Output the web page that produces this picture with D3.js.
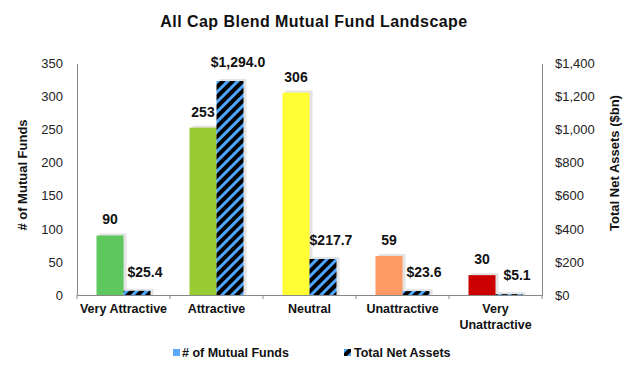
<!DOCTYPE html>
<html><head><meta charset="utf-8">
<script src="https://cdn.jsdelivr.net/npm/d3@7/dist/d3.min.js"></script>
<style>body{margin:0;background:#fff}svg{display:block;font-family:"Liberation Sans",Arial,sans-serif}</style>
</head><body><svg id="c" width="630" height="368"></svg>
<script>
const categories = ["Very Attractive", "Attractive", "Neutral", "Unattractive", "Very Unattractive"];
const fundCounts = [90, 253, 306, 59, 30];
const netAssets = [25.4, 1294.0, 217.7, 23.6, 5.1];
const countColors = ["#5ec85e", "#99cc33", "#ffff33", "#ff9966", "#cc0000"];
const leftTicks = [0, 50, 100, 150, 200, 250, 300, 350];
const rightTicks = [0, 200, 400, 600, 800, 1000, 1200, 1400];
const seriesNames = ["# of Mutual Funds", "Total Net Assets"];

const svg = d3.select("#c");
const L = 77, R = 542, T = 63.5, B = 295;

const defs = svg.append("defs");
const pat = defs.append("pattern").attr("id","hatch").attr("patternUnits","userSpaceOnUse")
  .attr("width",7).attr("height",7).attr("patternTransform","rotate(45)");
pat.append("rect").attr("width",7).attr("height",7).attr("fill","#000");
pat.append("rect").attr("x",0).attr("width",3).attr("height",7).attr("fill","#4da6ff");

const x = d3.scaleBand().domain(categories).range([L, R]).paddingInner(0).paddingOuter(0);
const yL = d3.scaleLinear().domain([0, 350]).range([B, T]);
const yR = d3.scaleLinear().domain([0, 1400]).range([B, T]);
const bw = 27;

// title
svg.append("text").attr("x", 314).attr("y", 27).attr("text-anchor","middle")
  .attr("font-size", 16).attr("font-weight","bold").attr("fill","#111").attr("letter-spacing", 0.45)
  .text("All Cap Blend Mutual Fund Landscape");

// shadows
const g = svg.append("g");
categories.forEach((c,i) => {
  const cx = x(c) + x.bandwidth()/2;
  const h1 = yL(fundCounts[i]);
  g.append("rect").attr("x", cx - bw + 3).attr("y", h1 - 2).attr("width", bw).attr("height", B - h1 + 2)
    .attr("fill","#d0d0d0").attr("opacity",0.6);
  const h2 = yR(netAssets[i]);
  g.append("rect").attr("x", cx + 3).attr("y", h2 - 2).attr("width", bw).attr("height", B - h2 + 2)
    .attr("fill","#d0d0d0").attr("opacity",0.6);
});
// bars
categories.forEach((c,i) => {
  const cx = x(c) + x.bandwidth()/2;
  g.append("rect").attr("x", cx - bw).attr("y", yL(fundCounts[i])).attr("width", bw)
    .attr("height", B - yL(fundCounts[i])).attr("fill", countColors[i]);
  g.append("rect").attr("x", cx).attr("y", yR(netAssets[i])).attr("width", bw)
    .attr("height", Math.max(0, B - yR(netAssets[i]))).attr("fill", "url(#hatch)");
});
// value labels
const lab = svg.append("g").attr("font-size", 14).attr("font-weight","bold").attr("fill","#111").attr("text-anchor","middle");
categories.forEach((c,i) => {
  const cx = x(c) + x.bandwidth()/2;
  lab.append("text").attr("x", cx - bw/2).attr("y", yL(fundCounts[i]) - 11).text(d3.format("d")(fundCounts[i]));
  lab.append("text").attr("x", cx + bw/2 + 8).attr("y", yR(netAssets[i]) - 14)
    .text("$" + d3.format(",.1f")(netAssets[i]));
});

// axes
const axisColor = "#888";
const xa = svg.append("g").attr("transform", `translate(0,${B})`)
  .call(d3.axisBottom(x).tickSize(0).tickFormat(""));
xa.select(".domain").attr("stroke", axisColor);
const bounds = categories.map(c => x(c)).concat([R]);
svg.append("g").selectAll("line").data(bounds).join("line")
  .attr("x1", d=>d).attr("x2", d=>d).attr("y1", B).attr("y2", B+4).attr("stroke", axisColor);

const la = svg.append("g").attr("transform", `translate(${L},0)`)
  .call(d3.axisLeft(yL).tickValues(leftTicks).tickSize(0).tickPadding(14));
la.select(".domain").attr("stroke", axisColor);
la.selectAll("text").attr("font-size", 13).attr("fill","#222").attr("font-family","Liberation Sans, Arial");

const ra = svg.append("g").attr("transform", `translate(${R},0)`)
  .call(d3.axisRight(yR).tickValues(rightTicks).tickSize(0).tickPadding(13).tickFormat(d => "$" + d3.format(",")(d)));
ra.select(".domain").attr("stroke", axisColor);
ra.selectAll("text").attr("font-size", 13).attr("fill","#222").attr("font-family","Liberation Sans, Arial");

// category labels
const cl = svg.append("g").attr("font-size", 12.5).attr("font-weight","bold").attr("fill","#111").attr("text-anchor","middle");
categories.forEach(c => {
  const cx = x(c) + x.bandwidth()/2;
  const parts = c === "Very Unattractive" ? ["Very", "Unattractive"] : [c];
  parts.forEach((p,j) => cl.append("text").attr("x", cx).attr("y", 313 + j*16).text(p));
});

// axis titles
svg.append("text").attr("transform", "translate(27,175) rotate(-90)").attr("text-anchor","middle")
  .attr("font-size", 13).attr("font-weight","bold").attr("fill","#111").text("# of Mutual Funds");
svg.append("text").attr("transform", "translate(619,163) rotate(-90)").attr("text-anchor","middle")
  .attr("font-size", 13).attr("font-weight","bold").attr("fill","#111").text("Total Net Assets ($bn)");

// legend
const lg = svg.append("g").attr("font-size", 12.5).attr("font-weight","bold").attr("fill","#111");
lg.append("rect").attr("x", 173).attr("y", 349).attr("width", 7).attr("height", 7).attr("fill", "#5aa9ff");
lg.append("text").attr("x", 182).attr("y", 357).text(seriesNames[0]);
lg.append("rect").attr("x", 344).attr("y", 349).attr("width", 7).attr("height", 7).attr("fill", "url(#hatch)");
lg.append("text").attr("x", 354).attr("y", 357).text(seriesNames[1]);
</script></body></html>
